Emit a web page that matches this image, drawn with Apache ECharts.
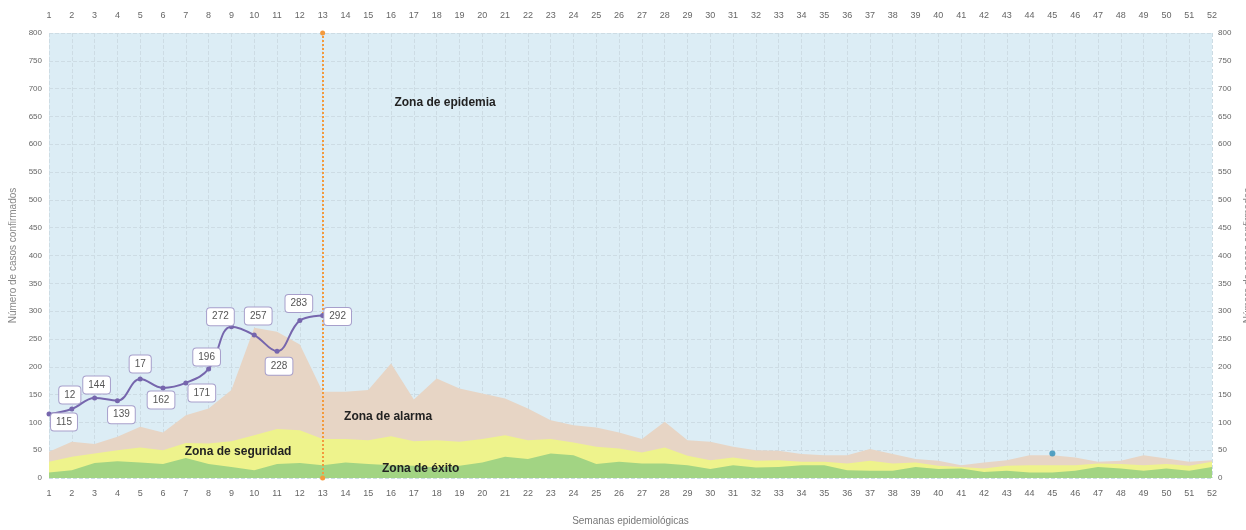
<!DOCTYPE html>
<html>
<head>
<meta charset="utf-8">
<script src="https://cdn.jsdelivr.net/npm/echarts@6/dist/echarts.min.js"></script>
<style>
html,body{margin:0;padding:0;background:#fff;overflow:hidden;}
#c{width:1246px;height:530px;}
</style>
</head>
<body>
<div id="c"></div>
<script>
// ---- data ----
const weeks = [1,2,3,4,5,6,7,8,9,10,11,12,13,14,15,16,17,18,19,20,21,22,23,24,25,26,
               27,28,29,30,31,32,33,34,35,36,37,38,39,40,41,42,43,44,45,46,47,48,49,50,51,52];
const yTicks = [0,50,100,150,200,250,300,350,400,450,500,550,600,650,700,750,800];
// upper limit of each zone (per week)
const zonaExito = [10,14,27,30,28,25,36,25,20,14,25,27,23,
                   28,25,23,22,19,22,28,38,34,44,41,25,29,
                   26,26,23,16,23,19,20,23,23,14,13,13,20,
                   16,17,11,13,10,10,13,20,17,13,17,13,20];
const zonaSeguridad = [29,38,44,50,55,50,63,62,66,77,88,86,70,
                       70,68,75,66,68,65,70,77,68,70,64,56,53,
                       46,55,40,32,37,31,32,29,29,26,31,26,28,
                       22,20,17,22,23,23,23,26,25,23,25,22,29];
const zonaAlarma = [47,65,61,74,92,82,113,125,158,270,263,240,155,
                    155,158,206,141,179,161,152,143,125,104,95,91,82,
                    70,101,68,65,56,50,49,43,41,41,52,43,34,
                    31,23,28,32,41,41,37,29,31,41,35,29,32];
// confirmed cases, weeks 1-13
const casos = [115,124,144,139,178,162,171,196,272,257,228,283,292];
const casosEtiquetas = ["115","12","144","139","17","162","171","196","272","257","228","283","292"];
const puntoExtra = [[45, 44]];
const semanaActual = 13;

// ---- layout (label offsets relative to the point) ----
const labelOffsets = [[15,8],[-2,-14],[2,-13],[4,14],[0,-15],[-2,12],[16,10],[-2,-12],[-11,-10],[4,-19],[2,15],[-1,-17],[15,1]];

const pairs = arr => arr.map((v, i) => [weeks[i], v]);
const FONT = 'Liberation Sans';
const tickColor = '#666';
const gridColor = '#cddce4';

const chart = echarts.init(document.getElementById('c'));
const option = {
  animation: false,
  textStyle: {fontFamily: FONT},
  grid: {left: 49, right: 34, top: 33, bottom: 52, show: true, backgroundColor: '#dcedf5', borderWidth: 0,
         containLabel: false, outerBoundsMode: 'none'},
  xAxis: [
    {type: 'value', position: 'bottom', min: 1, max: 52, interval: 1,
     name: 'Semanas epidemiológicas', nameLocation: 'middle', nameGap: 38,
     nameTextStyle: {color: '#777', fontSize: 10, fontFamily: FONT},
     axisLine: {show: false}, axisTick: {show: false},
     axisLabel: {color: tickColor, fontSize: 9, margin: 11, showMinLabel: true, showMaxLabel: true},
     splitLine: {show: true, lineStyle: {color: gridColor, type: 'dashed', width: 1}}},
    {type: 'value', position: 'top', min: 1, max: 52, interval: 1,
     axisLine: {show: false}, axisTick: {show: false},
     axisLabel: {color: tickColor, fontSize: 9, margin: 13, showMinLabel: true, showMaxLabel: true},
     splitLine: {show: false}}
  ],
  yAxis: [
    {type: 'value', position: 'left', min: yTicks[0], max: yTicks[yTicks.length-1], interval: 50,
     name: 'Número de casos confirmados', nameLocation: 'middle', nameGap: 31, nameRotate: 90,
     nameTextStyle: {color: '#888', fontSize: 10, fontFamily: FONT},
     axisLine: {show: false}, axisTick: {show: false},
     axisLabel: {color: tickColor, fontSize: 8, margin: 7},
     splitLine: {show: true, lineStyle: {color: gridColor, type: 'dashed', width: 1}}},
    {type: 'value', position: 'right', min: yTicks[0], max: yTicks[yTicks.length-1], interval: 50,
     name: 'Número de casos confirmados', nameLocation: 'middle', nameGap: 31, nameRotate: 90,
     nameTextStyle: {color: '#888', fontSize: 10, fontFamily: FONT},
     axisLine: {show: false}, axisTick: {show: false},
     axisLabel: {color: tickColor, fontSize: 8, margin: 6},
     splitLine: {show: false}}
  ],
  series: [
    {name: 'Zona de alarma', type: 'line', data: pairs(zonaAlarma), symbol: 'none', z: 1,
     lineStyle: {width: 0}, areaStyle: {color: '#e7d5c5', opacity: 1}},
    {name: 'Zona de seguridad', type: 'line', data: pairs(zonaSeguridad), symbol: 'none', z: 2,
     lineStyle: {width: 0}, areaStyle: {color: '#eef38c', opacity: 1}},
    {name: 'Zona de éxito', type: 'line', data: pairs(zonaExito), symbol: 'none', z: 3,
     lineStyle: {width: 0}, areaStyle: {color: '#a2d483', opacity: 1},
     markLine: {silent: true, symbol: ['circle', 'circle'], symbolSize: 5,
       lineStyle: {color: '#f39a3d', type: 'dotted', width: 2}, label: {show: false},
       itemStyle: {color: '#f39a3d'},
       data: [{xAxis: semanaActual}]}},
    {name: 'Casos', type: 'line', smooth: 0.4, z: 5,
     data: casos.map((v, i) => ({
       value: [weeks[i], v],
       label: {show: true, position: 'inside', offset: labelOffsets[i], formatter: casosEtiquetas[i]}
     })),
     symbol: 'circle', symbolSize: 5,
     lineStyle: {color: '#7666ad', width: 2},
     itemStyle: {color: '#7666ad'},
     label: {color: '#555', fontSize: 10, fontFamily: FONT, backgroundColor: '#ffffff',
       borderColor: '#a79fcb', borderWidth: 1, borderRadius: 3, padding: [4, 5, 3, 5]}},
    {name: 'Punto', type: 'scatter', data: puntoExtra, symbolSize: 6, z: 6,
     itemStyle: {color: '#2f8db6'}}
  ]
};
chart.setOption(option);

const zoneTexts = [
  {text: 'Zona de epidemia', at: [18.37, 674]},
  {text: 'Zona de alarma', at: [15.87, 110]},
  {text: 'Zona de seguridad', at: [9.29, 47]},
  {text: 'Zona de éxito', at: [17.3, 16]}
];
chart.setOption({
  graphic: zoneTexts.map(z => {
    const p = chart.convertToPixel({gridIndex: 0}, z.at);
    return {type: 'text', x: p[0], y: p[1], z: 10,
      style: {text: z.text, fill: '#222', font: 'bold 12px "Liberation Sans Narrow", "Liberation Sans"', align: 'center', verticalAlign: 'middle'}};
  })
});
</script>
</body>
</html>
